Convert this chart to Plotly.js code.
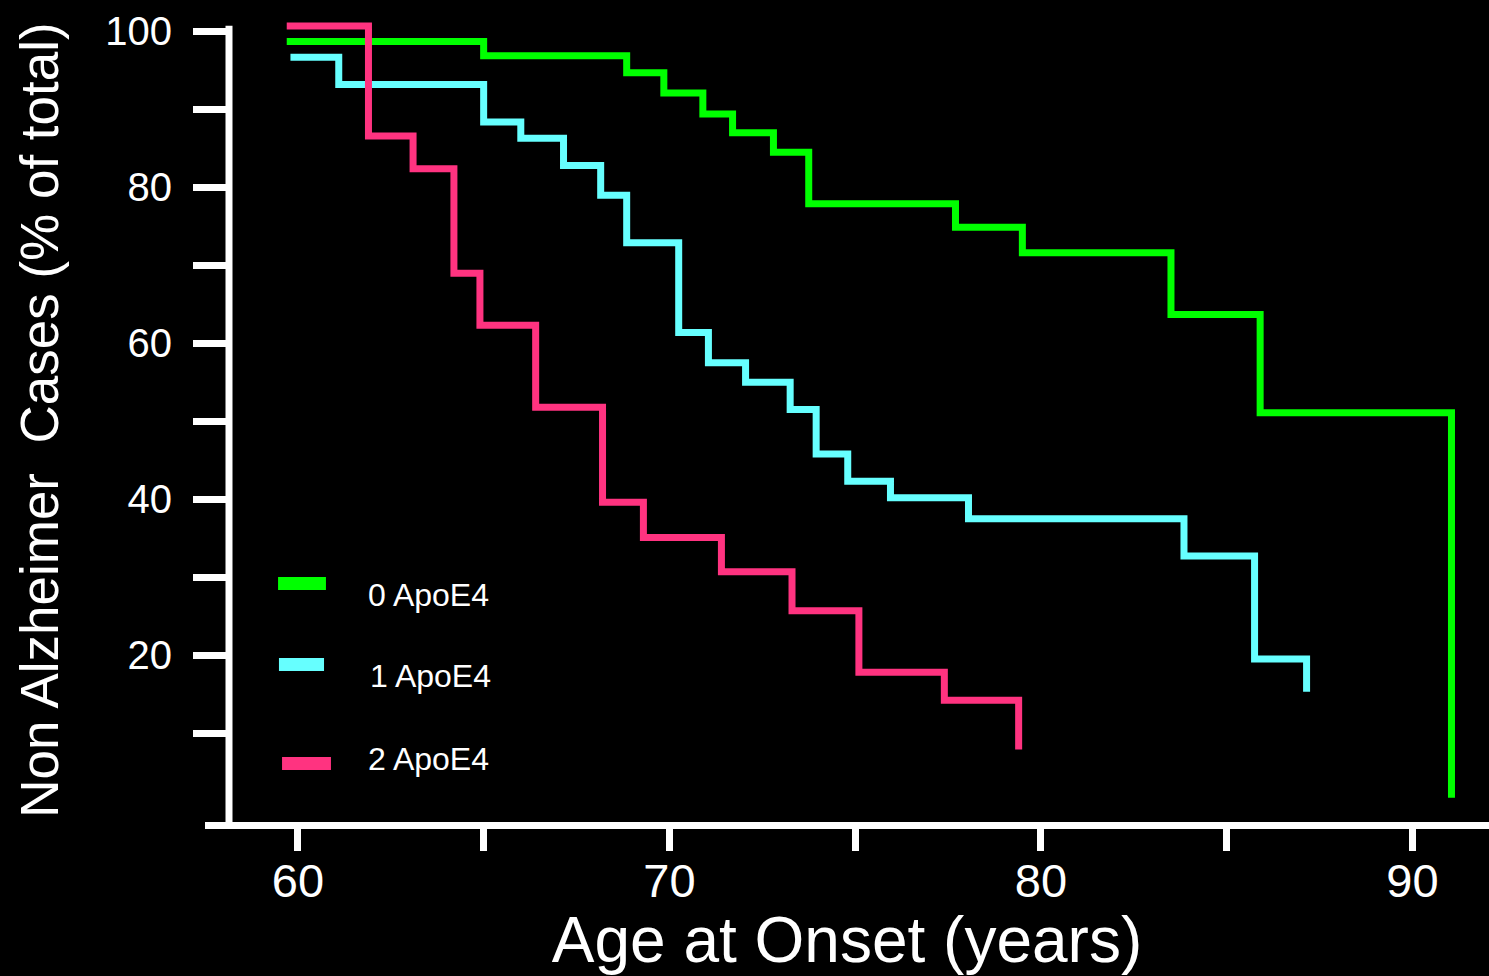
<!DOCTYPE html>
<html>
<head>
<meta charset="utf-8">
<script src="https://cdn.plot.ly/plotly-3.0.1.min.js"></script>
<style>html,body{margin:0;padding:0;background:#000;}#chart{width:1489px;height:976px;}</style>
</head>
<body>
<div id="chart"></div>
<script>
// ---- data (Kaplan-Meier style step curves) ----
const seriesNames = ['0 ApoE4', '1 ApoE4', '2 ApoE4'];
const seriesColors = ['#00ff00', '#66ffff', '#ff3380'];

const age0 = [59.7, 65.0, 68.85, 69.85, 70.9, 71.7, 72.8, 73.75, 77.7, 79.5, 83.5, 85.9, 91.05];
const pct0 = [98.7, 96.9, 94.7, 92.1, 89.4, 87.0, 84.5, 77.9, 74.9, 71.6, 63.7, 51.1, 1.7];

const age1 = [59.8, 61.1, 65.0, 66.0, 67.15, 68.15, 68.85, 70.25, 71.05, 72.05, 73.25, 73.95, 74.8, 75.95, 78.05, 83.85, 85.75, 87.15];
const pct1 = [96.7, 93.2, 88.4, 86.3, 82.8, 79.0, 72.9, 61.4, 57.5, 55.0, 51.5, 45.8, 42.3, 40.2, 37.5, 32.7, 19.5, 15.3];

const age2 = [59.7, 61.9, 63.1, 64.2, 64.9, 66.4, 68.2, 69.3, 71.4, 73.3, 75.1, 77.4, 79.4];
const pct2 = [100.7, 86.6, 82.4, 69.0, 62.3, 51.8, 39.6, 35.1, 30.7, 25.7, 17.8, 14.2, 7.9];

const xTickVals = [60, 65, 70, 75, 80, 85, 90];
const xTickText = ['60', '', '70', '', '80', '', '90'];
const yTickVals = [10, 20, 30, 40, 50, 60, 70, 80, 90, 100];
const yTickText = ['', '20', '', '40', '', '60', '', '80', '', '100'];

const xTitle = 'Age at Onset (years)';
const yTitle = 'Non Alzheimer  Cases (% of total)';

// ---- build ----
const FONT = 'Liberation Sans, Arial, Helvetica, sans-serif';
const ages = [age0, age1, age2];
const pcts = [pct0, pct1, pct2];

const traces = ages.map((a, i) => ({
  type: 'scatter', mode: 'lines', x: a, y: pcts[i], name: seriesNames[i],
  line: {shape: 'hv', color: seriesColors[i], width: 7},
  showlegend: false, hoverinfo: 'skip'
}));

const X_RANGE = [57.5, 92.06];
const Y_RANGE = [-1.41, 101.73];
const YPOS = 0.01869;

// custom legend (bars + labels), paper coordinates
const legX0 = [0.0569, 0.0576, 0.0600];
const legX1 = [0.0942, 0.0927, 0.0981];
const legY = [0.2966, 0.1960, 0.0727];
const legTextX = [0.1255, 0.1270, 0.1255];
const legTextY = [0.282, 0.181, 0.078];

const shapes = [
  {type: 'line', xref: 'paper', yref: 'y', x0: YPOS, x1: YPOS, y0: Y_RANGE[0], y1: 100.75,
   line: {color: '#ffffff', width: 7}}
];
const annotations = [];
seriesNames.forEach((n, i) => {
  shapes.push({type: 'line', xref: 'paper', yref: 'paper', x0: legX0[i], x1: legX1[i], y0: legY[i], y1: legY[i],
    line: {color: seriesColors[i], width: 13}});
  annotations.push({xref: 'paper', yref: 'paper', x: legTextX[i], y: legTextY[i], xanchor: 'left', yanchor: 'middle',
    text: n, showarrow: false, font: {family: FONT, size: 32, color: '#ffffff'}});
});

const layout = {
  width: 1489, height: 976,
  paper_bgcolor: '#000000', plot_bgcolor: '#000000',
  margin: {l: 205, r: 0, t: 18, b: 153.5},
  showlegend: false,
  xaxis: {
    range: X_RANGE, showgrid: false, zeroline: false,
    showline: true, linecolor: '#ffffff', linewidth: 7,
    ticks: 'outside', ticklen: 22, tickwidth: 7, tickcolor: '#ffffff',
    tickvals: xTickVals, ticktext: xTickText, ticklabelstandoff: -10,
    tickfont: {family: FONT, size: 47, color: '#ffffff'},
    title: {text: xTitle, font: {family: FONT, size: 64, color: '#ffffff'}, standoff: 5}
  },
  yaxis: {
    range: Y_RANGE, anchor: 'free', position: YPOS, showgrid: false, zeroline: false,
    showline: false,
    ticks: 'outside', ticklen: 36, tickwidth: 7, tickcolor: '#ffffff',
    tickvals: yTickVals, ticktext: yTickText, ticklabelstandoff: 13,
    tickfont: {family: FONT, size: 40, color: '#ffffff'},
    title: {text: yTitle, font: {family: FONT, size: 53, color: '#ffffff'}, standoff: 28}
  },
  shapes: shapes,
  annotations: annotations,
  font: {family: FONT, color: '#ffffff'}
};

Plotly.newPlot('chart', traces, layout, {displayModeBar: false, staticPlot: true});
</script>
</body>
</html>
